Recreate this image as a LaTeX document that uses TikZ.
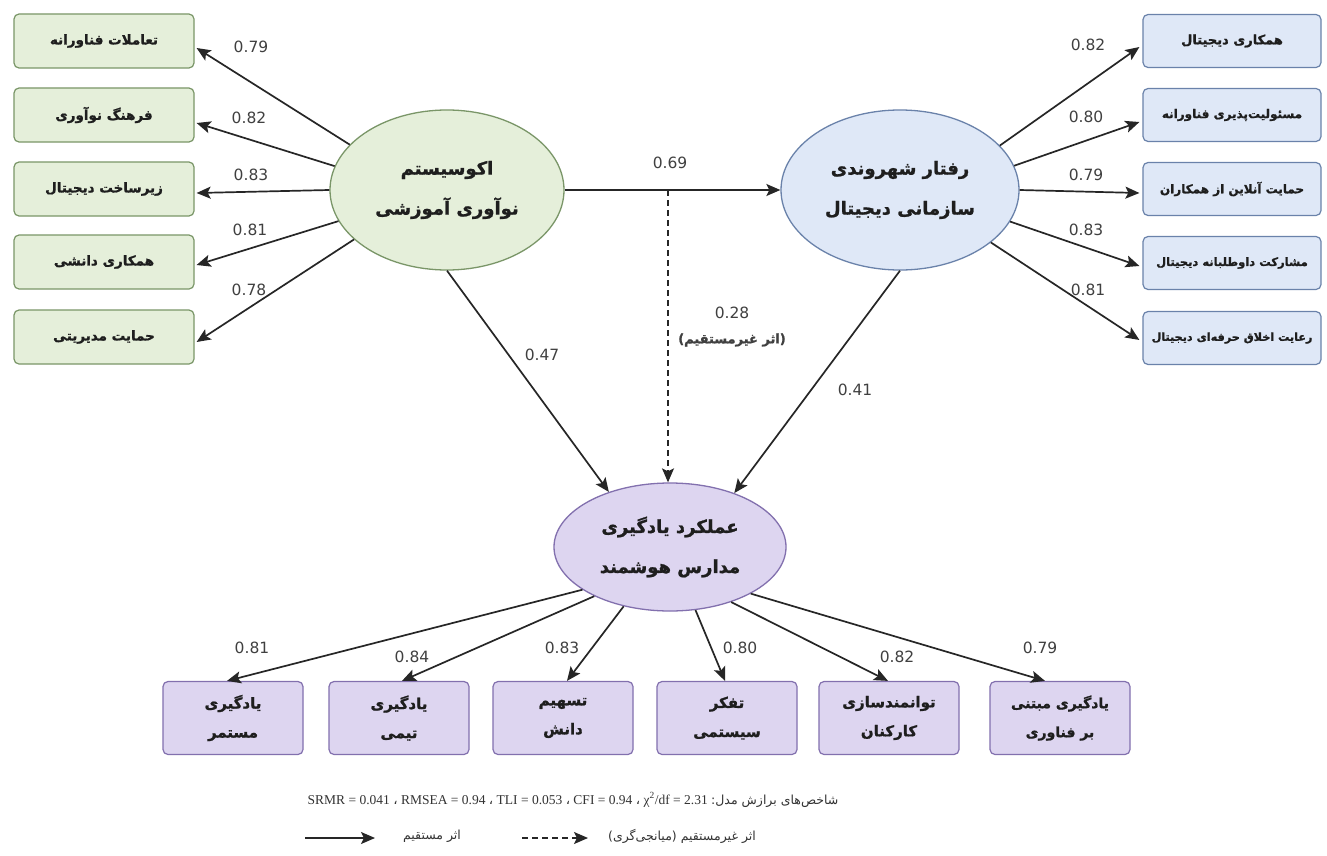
\documentclass[tikz,border=0pt]{standalone}
\usepackage{fontspec}
\setmainfont{DejaVu Sans}
\newfontfamily\fa[Script=Arabic,BoldFeatures={FakeBold=1.2}]{DejaVu Sans}
\newfontfamily\numf{DejaVu Sans}
\newfontfamily\serifl{Liberation Serif}
\TeXXeTstate=1
\usetikzlibrary{arrows.meta,shapes.geometric}
\newcommand{\rtl}[1]{\beginR #1\endR}
\definecolor{gfill}{HTML}{E5EFDA}
\definecolor{gdraw}{HTML}{7A9668}
\definecolor{bfill}{HTML}{DFE8F7}
\definecolor{bdraw}{HTML}{6A82AA}
\definecolor{pfill}{HTML}{DDD5F0}
\definecolor{pdraw}{HTML}{8270AE}
\definecolor{txt}{HTML}{1E1E1E}
\begin{document}
\begin{tikzpicture}[x=1pt,y=-1pt,
  box/.style={rounded corners=5pt, line width=1.2pt, align=center, inner sep=2pt, text=txt},
  lbox/.style={box, draw=gdraw, fill=gfill, minimum width=180pt, minimum height=54pt, font=\fa\bfseries\fontsize{13.5}{16}\selectfont},
  rbox/.style={box, draw=bdraw, fill=bfill, minimum width=178pt, minimum height=53pt, font=\fa\bfseries\fontsize{13}{15}\selectfont},
  bbox/.style={box, draw=pdraw, fill=pfill, minimum width=140pt, minimum height=73pt, font=\fa\bfseries\fontsize{15}{29}\selectfont},
  lat/.style={ellipse, line width=1.3pt, inner sep=0pt, align=center, text=txt, font=\fa\bfseries\fontsize{18}{40}\selectfont},
  conn/.style={-{Stealth[length=14pt,width=12pt,inset=3pt]}, line width=1.7pt, draw=black!85},
  dashline/.style={dash pattern=on 6pt off 4pt},
  num/.style={font=\numf\fontsize{15.5}{18}\selectfont, text=black!75, inner sep=1pt},
]
\useasboundingbox[fill=white] (0,0) rectangle (1327,856);

% latent variables
\node[lat, draw=gdraw, fill=gfill, minimum width=234pt, minimum height=160pt] (L) at (447,190) {\rtl{اکوسیستم}\\\rtl{نوآوری آموزشی}};
\node[lat, draw=bdraw, fill=bfill, minimum width=238pt, minimum height=160pt] (R) at (900,190) {\rtl{رفتار شهروندی}\\\rtl{سازمانی دیجیتال}};
\node[lat, draw=pdraw, fill=pfill, minimum width=232pt, minimum height=128pt] (B) at (670,547) {\rtl{عملکرد یادگیری}\\\rtl{مدارس هوشمند}};

% left indicators
\node[lbox] (l1) at (104,41) {\rtl{تعاملات فناورانه}};
\node[lbox] (l2) at (104,115) {\rtl{فرهنگ نوآوری}};
\node[lbox] (l3) at (104,189) {\rtl{زیرساخت دیجیتال}};
\node[lbox] (l4) at (104,262) {\rtl{همکاری دانشی}};
\node[lbox] (l5) at (104,337) {\rtl{حمایت مدیریتی}};

% right indicators
\node[rbox] (r1) at (1232,41) {\rtl{همکاری دیجیتال}};
\node[rbox, font=\fa\bfseries\fontsize{12}{14}\selectfont] (r2) at (1232,115) {\rtl{مسئولیت‌پذیری فناورانه}};
\node[rbox, font=\fa\bfseries\fontsize{12}{14}\selectfont] (r3) at (1232,189) {\rtl{حمایت آنلاین از همکاران}};
\node[rbox, font=\fa\bfseries\fontsize{11.5}{14}\selectfont] (r4) at (1232,263) {\rtl{مشارکت داوطلبانه دیجیتال}};
\node[rbox, font=\fa\bfseries\fontsize{11.2}{14}\selectfont] (r5) at (1232,338) {\rtl{رعایت اخلاق حرفه‌ای دیجیتال}};

% bottom indicators
\node[bbox] (b1) at (233,718) {\rtl{یادگیری}\\\rtl{مستمر}};
\node[bbox] (b2) at (399,718) {\rtl{یادگیری}\\\rtl{تیمی}};
\node[bbox] (b3) at (563,718) {\rtl{تسهیم}\\\rtl{دانش}};
\node[bbox] (b4) at (727,718) {\rtl{تفکر}\\\rtl{سیستمی}};
\node[bbox] (b5) at (889,718) {\rtl{توانمندسازی}\\\rtl{کارکنان}};
\node[bbox, font=\fa\bfseries\fontsize{14}{29}\selectfont] (b6) at (1060,718) {\rtl{یادگیری مبتنی}\\\rtl{بر فناوری}};

% left loadings
\draw[conn] (L.155) -- ([xshift=2pt,yshift=-7pt]l1.east);
\draw[conn] (L.168) -- ([xshift=2pt,yshift=-8pt]l2.east);
\draw[conn] (L.180) -- ([xshift=2pt,yshift=-4pt]l3.east);
\draw[conn] (L.196) -- ([xshift=2pt,yshift=-3pt]l4.east);
\draw[conn] (L.208) -- ([xshift=2pt,yshift=-5pt]l5.east);
\node[num] at (251,47) {0.79};
\node[num] at (249,118) {0.82};
\node[num] at (251,175) {0.83};
\node[num] at (250,230) {0.81};
\node[num] at (249,290) {0.78};

% right loadings
\draw[conn] (R.24) -- ([xshift=-3pt,yshift=-6pt]r1.west);
\draw[conn] (R.12) -- ([xshift=-3pt,yshift=-7pt]r2.west);
\draw[conn] (R.0) -- ([xshift=-3pt,yshift=-4pt]r3.west);
\draw[conn] (R.-16) -- ([xshift=-3pt,yshift=-3pt]r4.west);
\draw[conn] (R.-30) -- ([xshift=-3pt,yshift=-2pt]r5.west);
\node[num] at (1088,45) {0.82};
\node[num] at (1086,117) {0.80};
\node[num] at (1086,175) {0.79};
\node[num] at (1086,230) {0.83};
\node[num] at (1088,290) {0.81};

% bottom loadings
\draw[conn] (B.206) -- ([xshift=-6pt]b1.north);
\draw[conn] (B.213) -- ([xshift=3pt]b2.north);
\draw[conn] (B.232) -- ([xshift=4pt]b3.north);
\draw[conn] (B.292) -- ([xshift=-2pt]b4.north);
\draw[conn] (B.318) -- ([xshift=-1pt]b5.north);
\draw[conn] (B.330) -- ([xshift=-15pt]b6.north);
\node[num] at (252,648) {0.81};
\node[num] at (412,657) {0.84};
\node[num] at (562,648) {0.83};
\node[num] at (740,648) {0.80};
\node[num] at (897,657) {0.82};
\node[num] at (1040,648) {0.79};

% structural paths
\draw[conn] (L.east) -- (R.west);
\node[num] at (670,163) {0.69};
\coordinate (m) at (668,190);
\draw[conn, dashline, line width=1.4pt] (m) -- (B.north -| m);
\node[num] at (732,313) {0.28};
\node[font=\fa\bfseries\fontsize{13}{15}\selectfont, text=black!75] at (732,340) {\rtl{(اثر غیرمستقیم)}};
\draw[conn] (L.south) -- (B.138);
\node[num] at (542,355) {0.47};
\draw[conn] (R.south) -- (B.40);
\node[num] at (855,390) {0.41};

% fit indices
\node[text=black!80, inner sep=0pt] (fit) at (573,800) {{\serifl\fontsize{13.5}{15}\selectfont SRMR = 0.041 {\fa ،} RMSEA = 0.94 {\fa ،} TLI = 0.053 {\fa ،} CFI = 0.94 {\fa ،} χ\textsuperscript{2}/df = 2.31 }{\fa\fontsize{12.5}{15}\selectfont\rtl{شاخص‌های برازش مدل:}}};

% legend
\coordinate (s1) at (305,838);
\coordinate (s2) at (375,838);
\draw[conn, line width=1.4pt] (s1) -- (s2);
\node[font=\fa\fontsize{12.5}{14}\selectfont, text=black!80] (t1) at (432,836) {\rtl{اثر مستقیم}};
\coordinate (d1) at (522,838);
\coordinate (d2) at (588,838);
\draw[conn, dashline, line width=1.4pt] (d1) -- (d2);
\node[font=\fa\fontsize{12.5}{14}\selectfont, text=black!80] (t2) at (682,836) {\rtl{اثر غیرمستقیم (میانجی‌گری)}};
\end{tikzpicture}
\end{document}
